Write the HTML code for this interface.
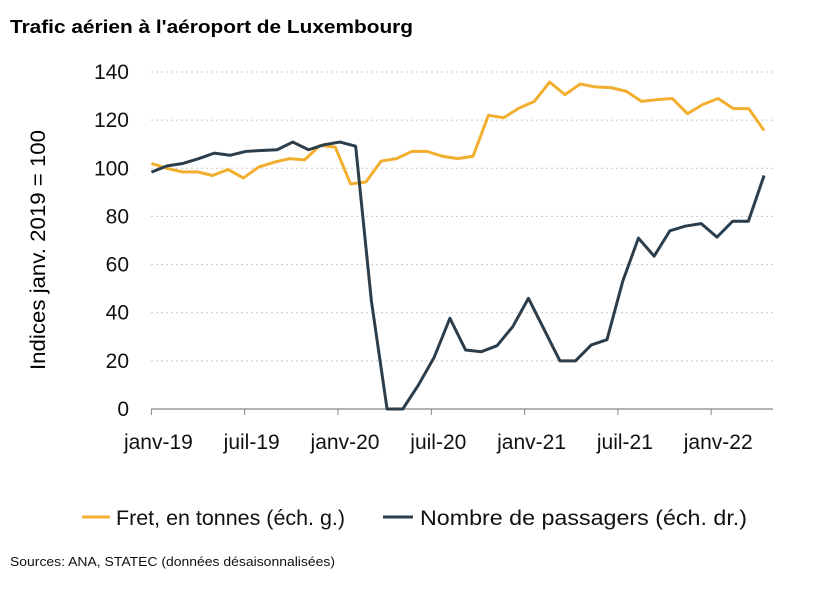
<!DOCTYPE html>
<html><head><meta charset="utf-8"><style>
html,body{margin:0;padding:0;background:#fff;}
body{width:820px;height:587px;overflow:hidden;font-family:"Liberation Sans",sans-serif;}
</style></head><body>
<svg id="s" width="820" height="587" xmlns="http://www.w3.org/2000/svg" font-family="Liberation Sans, sans-serif">
<text x="10" y="33" font-size="18.5" font-weight="bold" fill="#000" textLength="403" lengthAdjust="spacingAndGlyphs">Trafic aérien à l'aéroport de Luxembourg</text>
<text transform="translate(45,250) rotate(-90)" text-anchor="middle" font-size="21" fill="#000" textLength="240" lengthAdjust="spacingAndGlyphs">Indices janv. 2019 = 100</text>
<g id="grid"></g>
<g id="lines"></g>
<line x1="82" y1="517" x2="110" y2="517" stroke="#F2AE2E" stroke-width="3"/>
<text x="116" y="525" font-size="21" fill="#111" textLength="229" lengthAdjust="spacingAndGlyphs">Fret, en tonnes (éch. g.)</text>
<line x1="383" y1="517" x2="413" y2="517" stroke="#2C3E4C" stroke-width="3"/>
<text x="420" y="525" font-size="21" fill="#111" textLength="327" lengthAdjust="spacingAndGlyphs">Nombre de passagers (éch. dr.)</text>
<text x="10" y="566" font-size="13" fill="#111" textLength="325" lengthAdjust="spacingAndGlyphs">Sources: ANA, STATEC (données désaisonnalisées)</text>
</svg>
<script>
var ns="http://www.w3.org/2000/svg",g=document.getElementById("grid"),L=document.getElementById("lines");
function el(p,t,a,tx){var e=document.createElementNS(ns,t);for(var k in a)e.setAttribute(k,a[k]);if(tx!==undefined)e.textContent=tx;p.appendChild(e);return e;}
function Y(v){return 409-v*337/140;}
for(var v=0;v<=140;v+=20){var y=Y(v);if(v>0)el(g,"line",{x1:151,x2:773,y1:y,y2:y,stroke:"#c8c8c8","stroke-width":1,"stroke-dasharray":"2,3"});
el(g,"text",{x:129,y:y+7,"text-anchor":"end","font-size":"21",fill:"#111"},v);}
el(g,"line",{x1:151,x2:773,y1:409,y2:409,stroke:"#888","stroke-width":1.2});
var labs=["janv-19","juil-19","janv-20","juil-20","janv-21","juil-21","janv-22"];
for(var i=0;i<7;i++){var x=151.4+i*93.3;el(g,"line",{x1:x,x2:x,y1:409,y2:415,stroke:"#888"});el(g,"text",{x:x+7,y:449,"text-anchor":"middle","font-size":"21",fill:"#111"},labs[i]);}
function X(i){return 100+(118+35.67*i)/2.294;}
var f=[102,100,98.5,98.5,97,99.5,96,100.5,102.5,104,103.5,109.5,108.8,93.5,94.3,103,104,107,107,105,104,105,122,121,125,127.8,135.8,130.6,135,133.8,133.5,132,127.8,128.5,129,122.7,126.5,129,124.8,124.8,115.7];
var p=[98.4,101,102,104,106.3,105.4,107,107.4,107.7,110.9,107.7,109.8,110.9,109.2,45,0,0,10,21.5,37.7,24.5,23.8,26.3,34.2,46,33,20,20,26.6,28.8,53,71,63.5,74,76,77,71.4,78,78,97];
var fp=f.map(function(v,i){return X(i*39.4/40)+","+Y(v);}).join(" ");
var pp=p.map(function(v,i){return X(i*39.4/39)+","+Y(v);}).join(" ");
el(L,"polyline",{points:fp,fill:"none",stroke:"#F2AE2E","stroke-width":3,"stroke-linejoin":"round"});
el(L,"polyline",{points:pp,fill:"none",stroke:"#2C3E4C","stroke-width":3,"stroke-linejoin":"round"});
</script>
</body></html>
